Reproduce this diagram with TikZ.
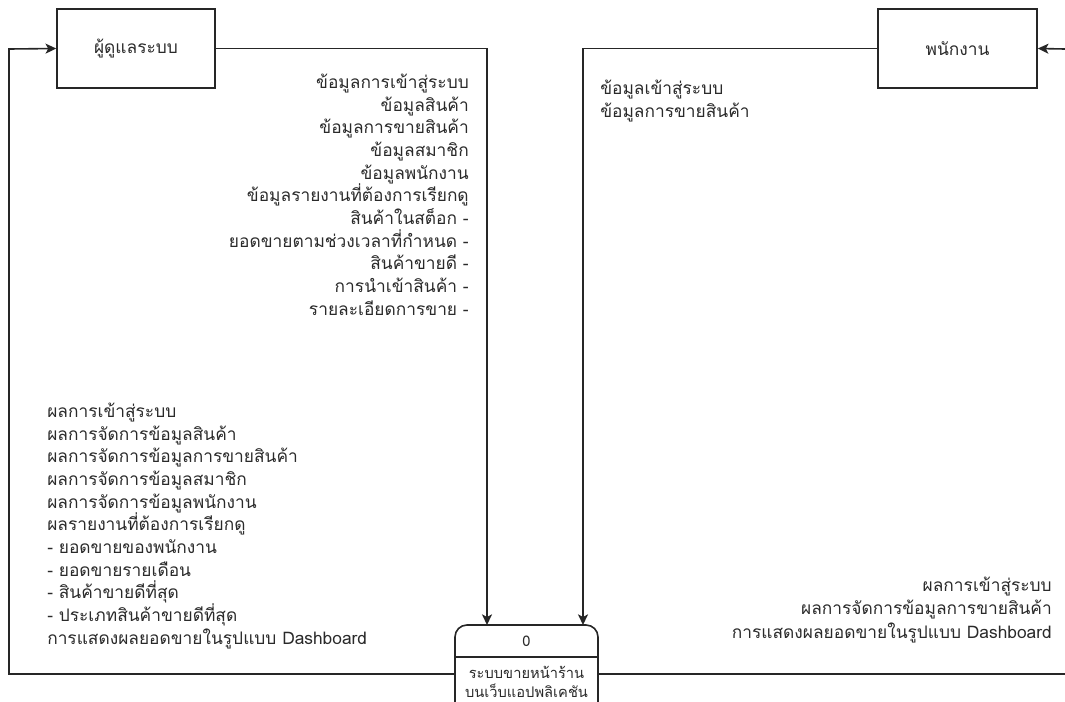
\documentclass[tikz,border=0pt]{standalone}
\usepackage{fontspec}
\newfontfamily\thaifont[Script=Thai]{Loma}
\usetikzlibrary{arrows.meta}
\definecolor{txt}{HTML}{2A2A2A}
\tikzset{
  ent/.style={draw=black!85, line width=1.2pt, minimum height=59.25pt, inner sep=0pt, font=\thaifont\fontsize{13}{15}\selectfont, text=txt},
  flow/.style={draw=black!85, line width=1.2pt},
  arr/.style={flow, -{Stealth[length=8pt,width=7.5pt,inset=2pt]}},
  lbl/.style={inner sep=0pt, text=txt, font=\thaifont\fontsize{13}{17}\selectfont},
}
\begin{document}
\begin{tikzpicture}[x=0.75pt,y=-0.75pt]
\useasboundingbox (0,0) rectangle (1065,701);
% entities
\node[ent, minimum width=118.5pt] (admin) at (136,48.5) {ผู้ดูแลระบบ};
\node[ent, minimum width=119.25pt] (staff) at (957.5,48.5) {พนักงาน};
% process
\node[draw=black!85, line width=1.2pt, rounded corners=9pt, minimum width=107.25pt, minimum height=78.75pt, inner sep=0pt] (proc) at (526.5,677.5) {};
\coordinate (divL) at (455,657);
\coordinate (divR) at (598,657);
\draw[flow] (divL) -- (divR);
\node[inner sep=0pt, text=txt, font=\thaifont\fontsize{11}{13}\selectfont] (pnum) at (526.5,641.5) {0};
\node[inner sep=0pt, text=txt, font=\thaifont\fontsize{11}{14.25}\selectfont, align=center, anchor=base] (pname) at (526.5,697) {ระบบขายหน้าร้าน\\บนเว็บแอปพลิเคชัน};
% coordinates
\coordinate (in1) at (487,625);
\coordinate (in2) at (583,625);
\coordinate (outL) at (455,674);
\coordinate (cornL) at (9,674);
\coordinate (cornLT) at (9,49);
\coordinate (outR) at (598,674);
\coordinate (edgeR) at (1065,674);
\coordinate (edgeRT) at (1065,49);
% connectors
\draw[arr] (admin.east) -| (in1);
\draw[arr] (staff.west) -| (in2);
\draw[arr] (outL) -- (cornL) -- (cornLT) -- (admin.west);
\draw[flow] (outR) -- (edgeR);
\draw[arr] (edgeRT) -- (staff.east);
% labels (base anchor = last line's baseline)
\node[lbl, align=right, anchor=base east] (l1) at (469,315) {ข้อมูลการเข้าสู่ระบบ\\ข้อมูลสินค้า\\ข้อมูลการขายสินค้า\\ข้อมูลสมาชิก\\ข้อมูลพนักงาน\\ข้อมูลรายงานที่ต้องการเรียกดู\\สินค้าในสต็อก -\\ยอดขายตามช่วงเวลาที่กำหนด -\\สินค้าขายดี -\\การนำเข้าสินค้า -\\รายละเอียดการขาย -};
\node[lbl, align=left, anchor=base west] (l2) at (47,644) {ผลการเข้าสู่ระบบ\\ผลการจัดการข้อมูลสินค้า\\ผลการจัดการข้อมูลการขายสินค้า\\ผลการจัดการข้อมูลสมาชิก\\ผลการจัดการข้อมูลพนักงาน\\ผลรายงานที่ต้องการเรียกดู\\- ยอดขายของพนักงาน\\- ยอดขายรายเดือน\\- สินค้าขายดีที่สุด\\- ประเภทสินค้าขายดีที่สุด\\การแสดงผลยอดขายในรูปแบบ Dashboard};
\node[lbl, align=left, anchor=base west] (l3) at (600,117) {ข้อมูลเข้าสู่ระบบ\\ข้อมูลการขายสินค้า};
\node[lbl, align=right, anchor=base east, font=\thaifont\fontsize{13}{17.5}\selectfont] (l4) at (1052,638) {ผลการเข้าสู่ระบบ\\ผลการจัดการข้อมูลการขายสินค้า\\การแสดงผลยอดขายในรูปแบบ Dashboard};
\end{tikzpicture}
\end{document}
